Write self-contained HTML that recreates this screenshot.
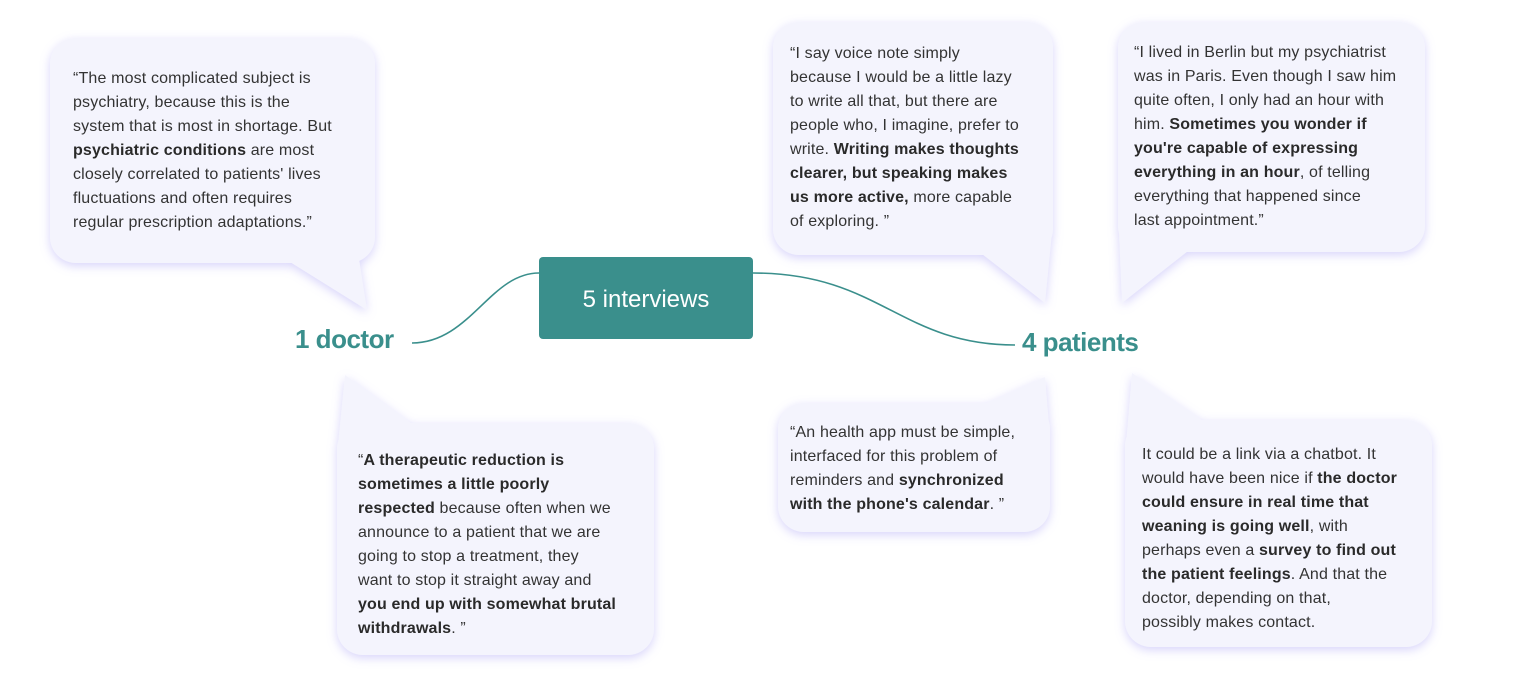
<!DOCTYPE html>
<html><head><meta charset="utf-8">
<style>
body{margin:0;background:#fff;}
#wrap{position:relative;width:1514px;height:680px;overflow:hidden;font-family:"Liberation Sans",sans-serif;}
.t{position:absolute;font-size:16px;line-height:24px;color:#333;letter-spacing:0.15px;white-space:nowrap;}
.t b{font-weight:700;color:#2a2a2a;}
.lab{position:absolute;color:#3a8f8c;font-weight:700;font-size:26px;letter-spacing:-0.5px;}
</style></head><body><div id="wrap">
<svg width="1514" height="680" style="position:absolute;left:0;top:0">
<defs><filter id="sh" x="-20%" y="-20%" width="140%" height="140%"><feGaussianBlur in="SourceAlpha" stdDeviation="5"/><feOffset dy="3"/><feComponentTransfer><feFuncA type="linear" slope="0.35"/></feComponentTransfer><feFlood flood-color="#8f86f0"/><feComposite operator="in" in2="SourceAlpha"/><feMerge/></filter>
<filter id="glow" x="-20%" y="-20%" width="140%" height="140%"><feGaussianBlur in="SourceAlpha" stdDeviation="5" result="b"/><feOffset in="b" dy="3" result="o"/><feFlood flood-color="#a79ff5" flood-opacity="0.45"/><feComposite in2="o" operator="in" result="s"/><feMerge><feMergeNode in="s"/><feMergeNode in="SourceGraphic"/></feMerge></filter></defs>
<g fill="#f4f4fd" filter="url(#glow)">
<g><rect x="50" y="38" width="325" height="225" rx="26"/><polygon points="290,262 367,310 356,240"/></g>
<g><rect x="337" y="423" width="317" height="232" rx="26"/><polygon points="338,445 345,375 412,424"/></g>
<g><rect x="773" y="22" width="280" height="233" rx="26"/><polygon points="982,254 1045,303 1052,232"/></g>
<g><rect x="1118" y="22" width="307" height="230" rx="26"/><polygon points="1119,232 1122,303 1188,251"/></g>
<g><rect x="778" y="403" width="272" height="129" rx="26"/><polygon points="985,404 1045,377 1049,425"/></g>
<g><rect x="1125" y="420" width="307" height="227" rx="26"/><polygon points="1126,445 1132,373 1203,421"/></g>
</g>
<path d="M412,343 C470,343 490,273 539,273" fill="none" stroke="#3a8f8c" stroke-width="1.6"/>
<path d="M753,273 C880,273 900,345 1015,345" fill="none" stroke="#3a8f8c" stroke-width="1.6"/>
<rect x="539" y="257" width="214" height="82" rx="4" fill="#3a8f8c"/>
<text x="646" y="307" fill="#fff" font-size="24" text-anchor="middle" font-family="Liberation Sans, sans-serif">5 interviews</text>
</svg>
<div class="lab" style="left:295px;top:324px">1 doctor</div>
<div class="lab" style="left:1022px;top:327px">4 patients</div>
<div class="t" style="left:73px;top:67px">“The most complicated subject is<br>psychiatry, because this is the<br>system that is most in shortage. But<br><b>psychiatric conditions</b> are most<br>closely correlated to patients' lives<br>fluctuations and often requires<br>regular prescription adaptations.”</div>
<div class="t" style="left:358px;top:449px">“<b>A therapeutic reduction is<br>sometimes a little poorly<br>respected</b> because often when we<br>announce to a patient that we are<br>going to stop a treatment, they<br>want to stop it straight away and<br><b>you end up with somewhat brutal<br>withdrawals</b>. ”</div>
<div class="t" style="left:790px;top:42px">“I say voice note simply<br>because I would be a little lazy<br>to write all that, but there are<br>people who, I imagine, prefer to<br>write. <b>Writing makes thoughts<br>clearer, but speaking makes<br>us more active,</b> more capable<br>of exploring. ”</div>
<div class="t" style="left:1134px;top:41px">“I lived in Berlin but my psychiatrist<br>was in Paris. Even though I saw him<br>quite often, I only had an hour with<br>him. <b>Sometimes you wonder if<br>you're capable of expressing<br>everything in an hour</b>, of telling<br>everything that happened since<br>last appointment.”</div>
<div class="t" style="left:790px;top:421px">“An health app must be simple,<br>interfaced for this problem of<br>reminders and <b>synchronized<br>with the phone's calendar</b>. ”</div>
<div class="t" style="left:1142px;top:443px">It could be a link via a chatbot. It<br>would have been nice if <b>the doctor<br>could ensure in real time that<br>weaning is going well</b>, with<br>perhaps even a <b>survey to find out<br>the patient feelings</b>. And that the<br>doctor, depending on that,<br>possibly makes contact.</div>
</div></body></html>
